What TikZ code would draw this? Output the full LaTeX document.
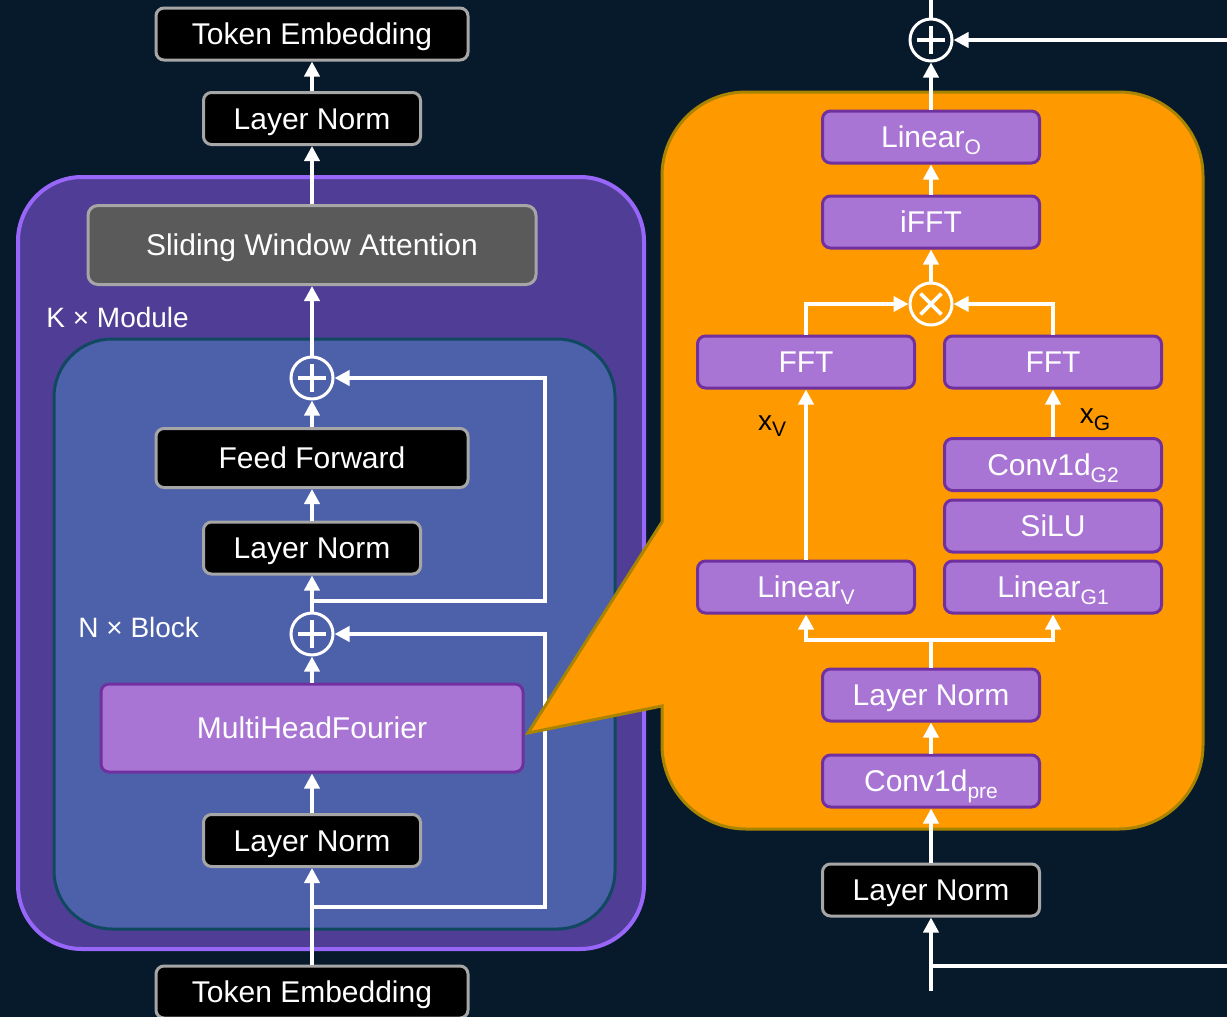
\documentclass[tikz,border=0pt]{standalone}
\usepackage{fontspec}
\setmainfont{Liberation Sans}
\usetikzlibrary{arrows.meta}
\definecolor{bgc}{HTML}{071A2C}
\definecolor{purpFill}{HTML}{503E96}
\definecolor{purpEdge}{HTML}{9966FA}
\definecolor{blueFill}{HTML}{4C61AA}
\definecolor{blueEdge}{HTML}{104860}
\definecolor{orangeFill}{HTML}{FF9900}
\definecolor{orangeEdge}{HTML}{A88400}
\definecolor{lavFill}{HTML}{A975D4}
\definecolor{lavEdge}{HTML}{7030A0}
\definecolor{boxGray}{HTML}{A6A6A6}
\definecolor{swaFill}{HTML}{5A5A5A}
\newcommand\lowtxt[1]{\raisebox{-0.45ex}{\fontsize{10.5}{12}\selectfont #1}}
\tikzset{
  basefont/.style={font=\fontsize{15}{18}\selectfont, text height=10.7pt, text depth=0pt},
  blackbox/.style={basefont, draw=boxGray, line width=1.5pt, fill=black, text=white,
    rounded corners=4pt, inner sep=0pt, minimum height=26pt},
  graybox/.style={basefont, draw=boxGray, line width=1.5pt, fill=swaFill, text=white,
    rounded corners=5pt, inner sep=0pt},
  lavbox/.style={basefont, draw=lavEdge, line width=1.5pt, fill=lavFill, text=white,
    rounded corners=4pt, inner sep=0pt, minimum width=108.5pt, minimum height=26pt},
  opcircle/.style={circle, draw=white, line width=1.5pt, minimum size=21pt, inner sep=0pt},
  plusop/.style={opcircle, path picture={
      \draw[white, line width=1.9pt] ([xshift=-7pt]path picture bounding box.center) -- ([xshift=7pt]path picture bounding box.center);
      \draw[white, line width=1.9pt] ([yshift=-7pt]path picture bounding box.center) -- ([yshift=7pt]path picture bounding box.center);}},
  timesop/.style={opcircle, path picture={
      \draw[white, line width=1.9pt] ([shift={(-5.2pt,-5.2pt)}]path picture bounding box.center) -- ([shift={(5.2pt,5.2pt)}]path picture bounding box.center);
      \draw[white, line width=1.9pt] ([shift={(-5.2pt,5.2pt)}]path picture bounding box.center) -- ([shift={(5.2pt,-5.2pt)}]path picture bounding box.center);}},
  wire/.style={draw=white, line width=2pt},
  arr/.style={wire, -{Triangle[width=7.5pt,length=7.5pt]}},
  lbl/.style={font=\fontsize{14}{16}\selectfont, text=white, inner sep=0pt, anchor=west},
  xlbl/.style={font=\fontsize{14}{16}\selectfont, text=black, inner sep=0pt},
}
\begin{document}
\begin{tikzpicture}[x=0.5pt,y=-0.5pt]
\fill[bgc] (0,0) rectangle (1227,1017);
\useasboundingbox (0,0) rectangle (1227,1017);

% ---------- left column ----------
\draw[draw=purpEdge, fill=purpFill, line width=2pt, rounded corners=32pt] (18,177) rectangle (644,949);
\draw[draw=blueEdge, fill=blueFill, line width=1.5pt, rounded corners=29pt] (54,339) rectangle (615,929);

\node[blackbox, minimum width=156pt] (teTop) at (312,34) {Token Embedding};
\node[blackbox, minimum width=108.5pt] (lnTop) at (312,118.5) {Layer Norm};
\node[graybox, minimum width=224pt, minimum height=39.5pt] (swa) at (312,245) {Sliding Window Attention};
\node[lbl] (kmod) at (46,317) {K × Module};
\node[plusop] (plusA) at (312,378) {};
\node[blackbox, minimum width=156pt, minimum height=29.5pt] (ff) at (312,458) {Feed Forward};
\node[blackbox, minimum width=108.5pt] (ln2) at (312,548) {Layer Norm};
\node[lbl] (nblk) at (78,627) {N × Block};
\node[plusop] (plusB) at (312,634) {};
\node[lavbox, minimum width=211pt, minimum height=44pt] (mhf) at (312,728) {MultiHeadFourier};
\node[blackbox, minimum width=108.5pt] (ln1) at (312,840.5) {Layer Norm};
\node[blackbox, minimum width=156pt] (teBot) at (312,992) {Token Embedding};

\coordinate (rA) at (312,601);
\coordinate (skipA) at (545,601);
\coordinate (rB) at (312,907);
\coordinate (skipB) at (545,907);

\draw[arr] (lnTop.north) -- (teTop.south);
\draw[arr] (swa.north) -- (lnTop.south);
\draw[arr] (plusA.north) -- (swa.south);
\draw[arr] (ff.north) -- (plusA.south);
\draw[arr] (ln2.north) -- (ff.south);
\draw[arr] (plusB.north) -- (ln2.south);
\draw[arr] (rA) -- (skipA) |- (plusA.east);
\draw[arr] (mhf.north) -- (plusB.south);
\draw[arr] (rB) -- (skipB) |- (plusB.east);
\draw[arr] (ln1.north) -- (mhf.south);
\draw[arr] (teBot.north) -- (ln1.south);

% ---------- right detail ----------
\filldraw[draw=orangeEdge, fill=orangeFill, line width=1.5pt]
  (662,522) -- (528,733) -- (662,706) -- (662,720)
  [rounded corners=42pt] -- (662,829) -- (1203,829) -- (1203,92) -- (662,92) -- (662,300)
  [sharp corners] -- cycle;

\node[plusop] (plusR) at (931,40) {};
\node[lavbox] (linO) at (931,137) {Linear\lowtxt{O}};
\node[lavbox] (ifft) at (931,222) {iFFT};
\node[timesop] (times) at (931,304) {};
\node[lavbox] (fftL) at (806,362) {FFT};
\node[lavbox] (fftR) at (1053,362) {FFT};
\node[xlbl] (xv) at (772,426) {x\lowtxt{V}};
\node[xlbl] (xg) at (1095,420) {x\lowtxt{G}};
\node[lavbox] (conv2) at (1053,464.5) {Conv1d\lowtxt{G2}};
\node[lavbox] (silu) at (1053,526) {SiLU};
\node[lavbox] (linG1) at (1053,587) {Linear\lowtxt{G1}};
\node[lavbox] (linV) at (806,587) {Linear\lowtxt{V}};
\node[lavbox] (lnIn) at (931,695) {Layer Norm};
\node[lavbox] (convPre) at (931,781) {Conv1d\lowtxt{pre}};
\node[blackbox, minimum width=108.5pt] (lnOut) at (931,890) {Layer Norm};

\coordinate (topOut) at (931,0);
\coordinate (resIn) at (1227,40);
\coordinate (split) at (931,640);
\coordinate (inBot) at (931,991);
\coordinate (brR) at (931,966);
\coordinate (brEnd) at (1227,966);

\draw[wire] (plusR.north) -- (topOut);
\draw[arr] (resIn) -- (plusR.east);
\draw[arr] (linO.north) -- (plusR.south);
\draw[arr] (ifft.north) -- (linO.south);
\draw[arr] (times.north) -- (ifft.south);
\draw[arr] (fftL.north) |- (times.west);
\draw[arr] (fftR.north) |- (times.east);
\draw[arr] (linV.north) -- (fftL.south);
\draw[arr] (conv2.north) -- (fftR.south);
\draw[wire] (lnIn.north) -- (split);
\draw[arr] (split) -| (linV.south);
\draw[arr] (split) -| (linG1.south);
\draw[arr] (convPre.north) -- (lnIn.south);
\draw[arr] (lnOut.north) -- (convPre.south);
\draw[arr] (inBot) -- (lnOut.south);
\draw[draw=white, line width=1.6pt] (brR) -- (brEnd);
\end{tikzpicture}
\end{document}
